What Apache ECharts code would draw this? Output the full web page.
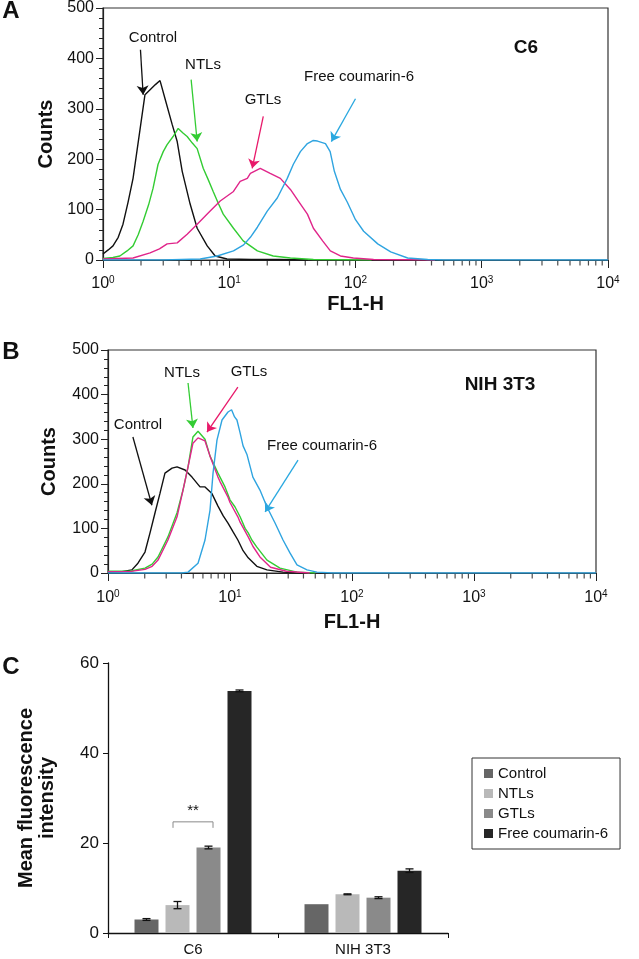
<!DOCTYPE html>
<html lang="en">
<head>
<meta charset="UTF-8">
<title>Coumarin-6 uptake</title>
<script src="https://cdn.jsdelivr.net/npm/echarts@6/dist/echarts.min.js"></script>
<style>html,body{margin:0;padding:0;background:#fff}</style>
</head>
<body>
<div id="chart" style="width:639px;height:959px;"></div>
<script>
const FONT = 'Liberation Sans, Arial, Helvetica, sans-serif'

// ---- data ----
const seriesNames = ['Control', 'NTLs', 'GTLs', 'Free coumarin-6']

// panel A, C6 cells: [FL1-H, counts]
const c6Control = [[1, 12], [1.1, 20], [1.2, 28], [1.32, 45], [1.44, 71], [1.58, 115], [1.73, 162], [1.97, 261], [2.15, 328], [2.36, 338], [2.6, 348], [2.83, 356], [3.1, 320], [3.53, 269], [3.87, 235], [4.24, 176], [4.9, 111], [5.57, 63], [6.69, 28], [7.74, 8], [9.6, 2], [15, 1], [25, 1], [42, 0]]
const c6NTLs = [[1, 3], [1.2, 5], [1.36, 8], [1.55, 18], [1.73, 28], [1.9, 50], [2.08, 77], [2.3, 110], [2.49, 142], [2.73, 190], [3.0, 215], [3.22, 229], [3.59, 245], [3.94, 261], [4.3, 252], [4.64, 245], [5.1, 232], [5.57, 221], [6.22, 182], [6.8, 160], [7.46, 136], [8.2, 112], [8.96, 91], [10.8, 63], [12.9, 38], [16.7, 18], [22.3, 8], [30.5, 4], [46.4, 1], [134, 0]]
const c6GTLs = [[1, 2], [1.73, 4], [2.36, 14], [2.8, 22], [3.22, 32], [3.87, 34], [4.64, 51], [5.57, 71], [7.06, 97], [8.48, 117], [10.8, 136], [12.2, 156], [13.9, 162], [14.7, 172], [17.6, 182], [21.1, 172], [25.4, 162], [30.5, 140], [35.3, 117], [41.6, 91], [46.4, 63], [54.9, 38], [63.2, 18], [75.9, 8], [96.1, 4], [139, 1], [427, 0]]
const c6Free = [[1, 0], [3, 0], [5.89, 2], [8.03, 8], [10.8, 18], [13, 30], [14.7, 45], [16.7, 65], [20, 97], [24, 123], [28.8, 162], [32.2, 190], [36.6, 215], [41.6, 231], [46, 237], [50, 236], [57.8, 231], [63, 215], [68, 176], [76, 140], [86, 115], [100, 80], [116, 57], [150, 32], [190, 16], [259, 4], [373, 1], [500, 0], [10000, 0]]

// panel B, NIH 3T3 cells
const nihControl = [[1, 2], [1.3, 3], [1.57, 7], [1.76, 22], [2.01, 47], [2.21, 90], [2.43, 135], [2.67, 179], [2.93, 224], [3.35, 235], [3.68, 238], [4.28, 231], [4.88, 215], [5.68, 193], [6.24, 193], [7.11, 178], [7.97, 150], [8.8, 128], [9.63, 112], [10.6, 92], [11.6, 74], [12.8, 50], [14.1, 34], [16.6, 15], [20.1, 7], [27.2, 2], [40, 0]]
const nihNTLs = [[1, 4], [1.5, 4], [2.01, 11], [2.3, 20], [2.57, 36], [3.1, 81], [3.68, 135], [4.12, 186], [4.53, 238], [4.97, 305], [5.47, 318], [6.24, 300], [6.86, 262], [7.97, 224], [9.1, 193], [10, 164], [11, 148], [12.1, 126], [13.3, 100], [14.1, 90], [15.1, 74], [16.6, 58], [20.1, 29], [25.7, 11], [35.4, 2], [50, 0]]
const nihGTLs = [[1, 3], [1.5, 3], [2.01, 8], [2.3, 15], [2.57, 29], [3.1, 74], [3.68, 126], [4.12, 186], [4.53, 238], [4.97, 291], [5.47, 303], [6.24, 296], [6.86, 262], [7.97, 215], [8.28, 205], [9.63, 170], [10, 158], [11.6, 126], [12.1, 114], [14.1, 81], [15.4, 60], [17.6, 36], [21.5, 13], [29, 4], [45, 0]]
const nihFree = [[1, 0], [4, 0], [4.53, 2], [5.47, 22], [6.24, 74], [6.86, 141], [7.26, 224], [7.82, 298], [8.6, 343], [9.63, 361], [10.3, 366], [10.9, 350], [11.4, 343], [12.1, 314], [12.8, 285], [13.8, 265], [15.4, 215], [17.6, 186], [20.1, 148], [23.4, 112], [27.2, 74], [31, 45], [35.4, 18], [42.8, 7], [51.6, 2], [70, 0], [10000, 0]]

// annotation arrows [from, to] in data units
const c6Arrows = [[[1.98, 417], [2.08, 328]], [[4.99, 358], [5.57, 235]], [[18.6, 285], [15.2, 182]], [[100, 320], [64.4, 235]]]
const nihArrows = [[[1.6, 305], [2.29, 152]], [[4.53, 426], [4.97, 325]], [[11.6, 417], [6.48, 316]], [[36.1, 253], [19.4, 137]]]

// panel C
const barCategories = ['C6', 'NIH 3T3']
const mfiControl = [3.0, 6.4]
const mfiNTLs = [6.2, 8.6]
const mfiGTLs = [19.0, 7.85]
const mfiFree = [53.8, 13.85]
const errControl = [0.2, 0]
const errNTLs = [0.8, 0.1]
const errGTLs = [0.3, 0.2]
const errFree = [0.2, 0.4]

const decades = [1, 10, 100, 1000]
const minorSteps = [2, 3, 4, 5, 6, 7, 8, 9]

// ---- styles ----
const lineColors = ['#111111', '#33cc33', '#e0258a', '#2fa4e0']
const arrowColors = ['#111111', '#33cc33', '#e8196a', '#29a8e0']
const barColors = ['#666666', '#b9b9b9', '#8a8a8a', '#262626']
const BAR_W = 24, BAR_GAP = 7

const chart = echarts.init(document.getElementById('chart'), null, { renderer: 'canvas' })

function histX(gridIndex, nameGap, margin) {
  return {
    type: 'log', logBase: 10, gridIndex, min: 1, max: 10000,
    axisLine: { show: true, onZero: false, lineStyle: { color: '#222', width: 1.2 } },
    axisTick: { show: true, length: 8, lineStyle: { color: '#222' } },
    splitLine: { show: false },
    axisLabel: {
      margin,
      formatter: v => '{b|10}{s|' + Math.round(Math.log10(v)) + '}',
      rich: {
        b: { fontSize: 16, fontFamily: FONT, color: '#111' },
        s: { fontSize: 10, fontFamily: FONT, color: '#111', padding: [0, 0, 8, 0] }
      }
    },
    name: 'FL1-H', nameLocation: 'middle', nameGap,
    nameTextStyle: { fontWeight: 'bold', fontSize: 20, fontFamily: FONT, color: '#111' }
  }
}

function histY(gridIndex, nameGap) {
  return {
    type: 'value', gridIndex, min: 0, max: 500, interval: 100,
    axisLine: { show: true, lineStyle: { color: '#222', width: 1.2 } },
    axisTick: { show: true, length: 7, lineStyle: { color: '#222' } },
    minorTick: { show: true, splitNumber: 5, length: 4, lineStyle: { color: '#222' } },
    splitLine: { show: false },
    axisLabel: { fontSize: 16, fontFamily: FONT, color: '#111', margin: 9 },
    name: 'Counts', nameLocation: 'middle', nameGap, nameRotate: 90,
    nameTextStyle: { fontWeight: 'bold', fontSize: 20, fontFamily: FONT, color: '#111' }
  }
}

// small log ticks (2..9 of each decade) drawn below the x axis
const minorTickVals = []
decades.forEach(d => minorSteps.forEach(m => minorTickVals.push([m * d, 0])))

function minorTicks(axisIndex) {
  return {
    type: 'scatter', xAxisIndex: axisIndex, yAxisIndex: axisIndex,
    data: minorTickVals, symbol: 'rect', symbolSize: [1.2, 5], symbolOffset: [0, 3],
    itemStyle: { color: '#222' }, clip: false, silent: true, z: 1
  }
}

function histSeries(axisIndex, curves, arrows, tag) {
  return curves.map((d, i) => ({
    name: tag + ' ' + seriesNames[i],
    type: 'line', xAxisIndex: axisIndex, yAxisIndex: axisIndex,
    data: d, showSymbol: false, symbol: 'none',
    lineStyle: { color: lineColors[i], width: 1.4 },
    z: 3 + i,
    markLine: {
      silent: true, symbol: ['none', 'arrow'], symbolSize: 9,
      label: { show: false },
      lineStyle: { color: arrowColors[i], width: 1.3, type: 'solid' },
      data: [[{ coord: arrows[i][0] }, { coord: arrows[i][1] }]]
    }
  }))
}

const mfi = [mfiControl, mfiNTLs, mfiGTLs, mfiFree]
const errs = [errControl, errNTLs, errGTLs, errFree]

const barSeries = mfi.map((vals, i) => ({
  name: seriesNames[i], type: 'bar', xAxisIndex: 2, yAxisIndex: 2,
  data: vals, barWidth: BAR_W, barGap: (BAR_GAP / BAR_W * 100) + '%',
  itemStyle: { color: barColors[i] }
}))

const errorSeries = mfi.map((vals, i) => ({
  type: 'custom', xAxisIndex: 2, yAxisIndex: 2, z: 10, silent: true,
  data: vals.map((v, k) => [k, v - errs[i][k], v + errs[i][k]]),
  renderItem: (params, api) => {
    const off = (i - 1.5) * (BAR_W + BAR_GAP)
    const lo = api.coord([api.value(0), api.value(1)])
    const hi = api.coord([api.value(0), api.value(2)])
    const x = lo[0] + off
    if (hi[1] === lo[1]) return
    const st = { stroke: '#111', lineWidth: 1.3 }
    return {
      type: 'group', children: [
        { type: 'line', shape: { x1: x, y1: lo[1], x2: x, y2: hi[1] }, style: st },
        { type: 'line', shape: { x1: x - 4, y1: lo[1], x2: x + 4, y2: lo[1] }, style: st },
        { type: 'line', shape: { x1: x - 4, y1: hi[1], x2: x + 4, y2: hi[1] }, style: st }
      ]
    }
  }
}))

// ** bracket between NTLs and GTLs in C6
const sigBracket = [[0, 24.7]]
const sigSeries = {
  type: 'custom', xAxisIndex: 2, yAxisIndex: 2, z: 10, silent: true,
  data: sigBracket,
  renderItem: (params, api) => {
    const p = api.coord([api.value(0), api.value(1)])
    const x1 = p[0] + (1 - 1.5) * (BAR_W + BAR_GAP) - 4.5
    const x2 = p[0] + (2 - 1.5) * (BAR_W + BAR_GAP) + 4.5
    return {
      type: 'group', children: [
        { type: 'polyline', shape: { points: [[x1, p[1] + 6], [x1, p[1]], [x2, p[1]], [x2, p[1] + 6]] }, style: { stroke: '#8a8a8a', lineWidth: 1, fill: null } },
        { type: 'text', style: { text: '**', x: (x1 + x2) / 2, y: p[1] - 3, textAlign: 'center', textVerticalAlign: 'bottom', fontSize: 15, fontFamily: FONT, fill: '#111' } }
      ]
    }
  }
}

function txt(text, x, y, size, bold) {
  return { type: 'text', x, y, style: { text, fontSize: size, fontWeight: bold ? 'bold' : 'normal', fontFamily: FONT, fill: '#111', textAlign: 'center', textVerticalAlign: 'middle' } }
}

chart.setOption({
  animation: false,
  backgroundColor: '#fff',
  grid: [
    { left: 103, top: 6, width: 505, height: 254, show: true, borderColor: '#333', borderWidth: 1.2 },
    { left: 108, top: 350, width: 488, height: 223, show: true, borderColor: '#333', borderWidth: 1.2 },
    { left: 108, top: 663, width: 340, height: 270 }
  ],
  xAxis: [
    histX(0, 34, 15),
    histX(1, 39, 16),
    {
      type: 'category', gridIndex: 2, data: barCategories,
      axisLine: { lineStyle: { color: '#111', width: 1.3 } },
      axisTick: { show: true, alignWithLabel: false, length: 5, lineStyle: { color: '#111' } },
      axisLabel: { fontSize: 15, fontFamily: FONT, color: '#111', margin: 9 }
    }
  ],
  yAxis: [
    histY(0, 45),
    histY(1, 49),
    {
      type: 'value', gridIndex: 2, min: 0, max: 60, interval: 20,
      axisLine: { show: true, lineStyle: { color: '#111', width: 1.3 } },
      axisTick: { show: true, length: 5, lineStyle: { color: '#111' } },
      splitLine: { show: false },
      axisLabel: { fontSize: 17, fontFamily: FONT, color: '#111', margin: 9 },
      name: 'Mean fluorescence\nintensity', nameLocation: 'middle', nameGap: 50, nameRotate: 90,
      nameTextStyle: { fontWeight: 'bold', fontSize: 20, lineHeight: 21, fontFamily: FONT, color: '#111' }
    }
  ],
  legend: {
    data: seriesNames, orient: 'vertical', left: 472, top: 758,
    icon: 'rect', itemWidth: 9, itemHeight: 9, itemGap: 5,
    padding: [8, 12, 8, 12], borderColor: '#333', borderWidth: 1,
    textStyle: { fontSize: 15, fontFamily: FONT, color: '#111' },
    selectedMode: false
  },
  graphic: [
    txt('A', 11, 11, 24, true),
    txt('B', 11, 352, 24, true),
    txt('C', 11, 667, 24, true),
    txt('C6', 526, 48, 19, true),
    txt('NIH 3T3', 500, 385, 19, true),
    txt('Control', 153, 38, 15),
    txt('NTLs', 203, 65, 15),
    txt('GTLs', 263, 100, 15),
    txt('Free coumarin-6', 359, 77, 15),
    txt('NTLs', 182, 373, 15),
    txt('GTLs', 249, 372, 15),
    txt('Control', 138, 425, 15),
    txt('Free coumarin-6', 322, 446, 15)
  ],
  series: [
    minorTicks(0),
    minorTicks(1),
    ...histSeries(0, [c6Control, c6NTLs, c6GTLs, c6Free], c6Arrows, 'C6'),
    ...histSeries(1, [nihControl, nihNTLs, nihGTLs, nihFree], nihArrows, 'NIH'),
    ...barSeries,
    ...errorSeries,
    sigSeries
  ]
})
</script>
</body>
</html>
